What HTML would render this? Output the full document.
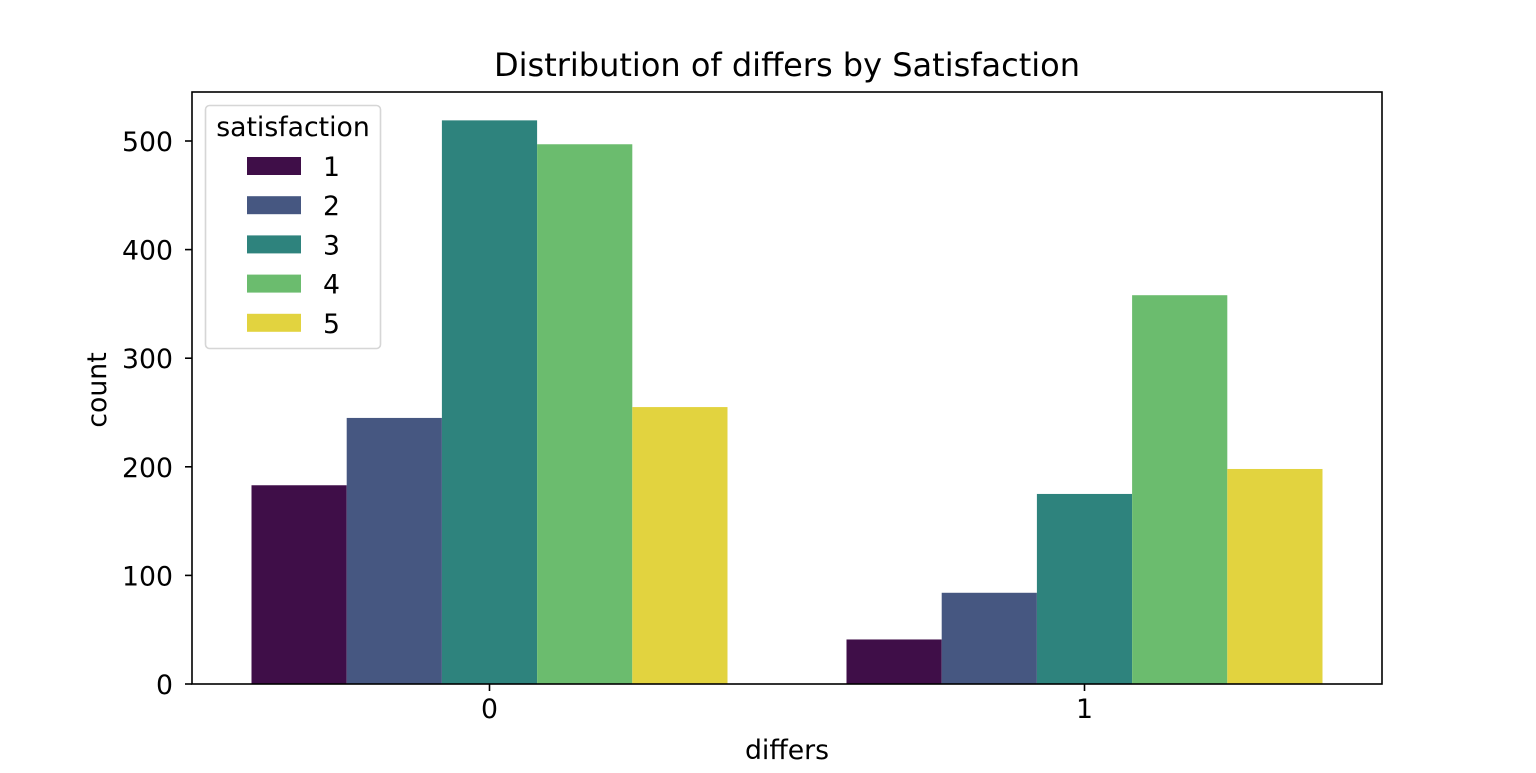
<!DOCTYPE html>
<html><head><meta charset="utf-8"><style>
body{margin:0;background:#fff}
svg text{font-family:"DejaVu Sans","Liberation Sans",sans-serif;fill:#000}
</style></head><body>
<svg id="chart" width="1536" height="768" xmlns="http://www.w3.org/2000/svg">
<text x="787" y="76" font-size="32" text-anchor="middle">Distribution of differs by Satisfaction</text>
<g id="bars"></g>
<rect x="192" y="92" width="1190" height="592" fill="none" stroke="#000" stroke-width="1.6"/>
<g id="axes"></g>
<text x="787" y="759" font-size="26.7" text-anchor="middle">differs</text>
<text transform="translate(106,390) rotate(-90)" font-size="26.7" text-anchor="middle">count</text>
<g id="legend">
<rect x="205.5" y="105.5" width="175" height="243" rx="4" fill="#fff" stroke="#d6d6d6" stroke-width="1.6"/>
<text x="293" y="136" font-size="26.7" text-anchor="middle">satisfaction</text>
</g>
</svg>
<script>
const categories = ["0","1"];
const hues = ["1","2","3","4","5"];
const colors = ["#3f0e48","#465781","#2e837d","#6bbc6e","#e2d33f"];
const s1 = [183, 41];
const s2 = [245, 84];
const s3 = [519, 175];
const s4 = [497, 358];
const s5 = [255, 198];
const yTicks = [0,100,200,300,400,500];
const series=[s1,s2,s3,s4,s5];
const NS="http://www.w3.org/2000/svg";
const L=192,R=1382,B=684,T=92;
const band=(R-L)/categories.length;
const y=v=>B-v*(543/500);
const x=i=>L+band*(i+0.5);
const bw=band*0.8/hues.length;
const bars=document.getElementById('bars');
series.forEach((s,h)=>s.forEach((v,i)=>{
 const r=document.createElementNS(NS,'rect');
 
 
 r.setAttribute('x',x(i)-band*0.4+h*bw);r.setAttribute('width',bw);
 r.setAttribute('y',y(v));r.setAttribute('height',B-y(v));r.setAttribute('fill',colors[h]);
 bars.appendChild(r);
}));
const ax=document.getElementById('axes');
yTicks.forEach(t=>{
 const l=document.createElementNS(NS,'line');
 
 
 l.setAttribute('x1',185);l.setAttribute('x2',192);l.setAttribute('y1',y(t));l.setAttribute('y2',y(t));l.setAttribute('stroke','#000');l.setAttribute('stroke-width','1.6');
 ax.appendChild(l);
 const tx=document.createElementNS(NS,'text');
 
 
 tx.setAttribute('x',173);tx.setAttribute('y',y(t)+10);tx.setAttribute('font-size','26.7');tx.setAttribute('text-anchor','end');tx.textContent=t;
 ax.appendChild(tx);
});
categories.forEach((c,i)=>{
 const l=document.createElementNS(NS,'line');
 
 
 l.setAttribute('x1',x(i));l.setAttribute('x2',x(i));l.setAttribute('y1',B);l.setAttribute('y2',B+7);l.setAttribute('stroke','#000');l.setAttribute('stroke-width','1.6');
 ax.appendChild(l);
 const tx=document.createElementNS(NS,'text');
 
 
 tx.setAttribute('x',x(i));tx.setAttribute('y',B+34);tx.setAttribute('font-size','26.7');tx.setAttribute('text-anchor','middle');tx.textContent=c;
 ax.appendChild(tx);
});
const lg=document.getElementById('legend');
hues.forEach((h,k)=>{
 const cy=166+k*39.2;
 const r=document.createElementNS(NS,'rect');
 
 
 r.setAttribute('x',247);r.setAttribute('y',cy-9);r.setAttribute('width',54);r.setAttribute('height',18);r.setAttribute('fill',colors[k]);
 lg.appendChild(r);
 const tx=document.createElementNS(NS,'text');
 
 
 tx.setAttribute('x',323);tx.setAttribute('y',cy+10);tx.setAttribute('font-size','26.7');tx.textContent=h;
 lg.appendChild(tx);
});
</script>
</body></html>
